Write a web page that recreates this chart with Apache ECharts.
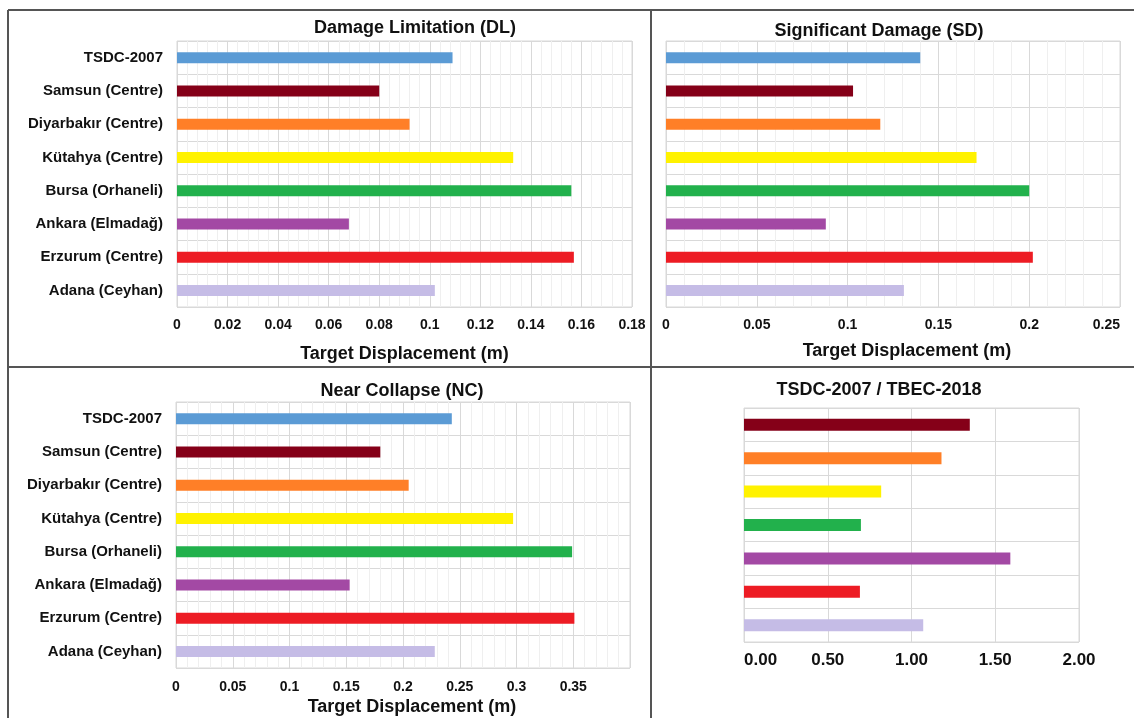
<!DOCTYPE html>
<html>
<head>
<meta charset="utf-8">
<script src="https://cdn.jsdelivr.net/npm/echarts@6/dist/echarts.min.js"></script>
<style>
html,body{margin:0;padding:0;background:#fff;}
#c{width:1134px;height:718px;}
</style>
</head>
<body>
<div id="c"></div>
<script>
// Categories listed top to bottom as they appear
const categories = ['TSDC-2007','Samsun (Centre)','Diyarbakır (Centre)','Kütahya (Centre)','Bursa (Orhaneli)','Ankara (Elmadağ)','Erzurum (Centre)','Adana (Ceyhan)'];
const barColors = ['#5B9BD5','#850018','#FF7F27','#FFF200','#22B14C','#A349A4','#ED1C24','#C5BCE6'];

const dlValues = [0.109, 0.080, 0.092, 0.133, 0.156, 0.068, 0.157, 0.102];
const sdValues = [0.140, 0.103, 0.118, 0.171, 0.200, 0.088, 0.202, 0.131];
const ncValues = [0.243, 0.180, 0.205, 0.297, 0.349, 0.153, 0.351, 0.228];

// Ratio panel: sites only (no TSDC-2007 row)
const ratioCategories = categories.slice(1);
const ratioColors = barColors.slice(1);
const ratioValues = [1.348, 1.179, 0.819, 0.698, 1.590, 0.692, 1.070];

const titles = ['Damage Limitation (DL)','Significant Damage (SD)','Near Collapse (NC)','TSDC-2007 / TBEC-2018'];
const axisTitle = 'Target Displacement (m)';

const FONT = '"Liberation Sans", Arial, sans-serif';
const chart = echarts.init(document.getElementById('c'));

function items(vals, cols){ return vals.map((v,i)=>({value:v, itemStyle:{color:cols[i]}})); }

const gridCommon = {show:true, borderColor:'#d9d9d9', borderWidth:1, backgroundColor:'transparent'};
const tickLbl = {color:'#111', fontFamily:FONT, fontWeight:'bold', fontSize:14, margin:11};
const nameStyle = {color:'#111', fontFamily:FONT, fontWeight:'bold', fontSize:18};
function xAx(gi, max, interval, opts){
  return Object.assign({
    type:'value', gridIndex:gi, min:0, max:max, interval:interval,
    axisLine:{show:false}, axisTick:{show:false},
    axisLabel:Object.assign({}, tickLbl),
    splitLine:{show:true, lineStyle:{color:'#d9d9d9', width:1}},
    minorTick:{show:false, splitNumber:5},
    minorSplitLine:{show:true, lineStyle:{color:'#efefef', width:1}},
    name:axisTitle, nameLocation:'middle', nameGap:38,
    nameTextStyle:Object.assign({}, nameStyle)
  }, opts||{});
}
function yAx(gi, cats, showLabels){
  return {
    type:'category', gridIndex:gi, data:cats, inverse:true,
    axisLine:{show:false}, axisTick:{show:false},
    axisLabel:{show:showLabels, color:'#111', fontFamily:FONT, fontWeight:'bold', fontSize:15, margin:14},
    splitLine:{show:true, lineStyle:{color:'#d9d9d9', width:1}}
  };
}
function bar(gi, vals, cols, w){
  return {type:'bar', xAxisIndex:gi, yAxisIndex:gi, data:items(vals, cols), barWidth:w, silent:true, animation:false};
}
const titleStyle = {color:'#111', fontFamily:FONT, fontWeight:'bold', fontSize:18};
const lineStyle = {stroke:'#555', lineWidth:2};

chart.setOption({
  animation:false,
  title:[
    {text:titles[0], left:410, top:14, textAlign:'center', textStyle:titleStyle},
    {text:titles[1], left:874, top:17, textAlign:'center', textStyle:titleStyle},
    {text:titles[2], left:397, top:377, textAlign:'center', textStyle:titleStyle},
    {text:titles[3], left:874, top:376, textAlign:'center', textStyle:titleStyle}
  ],
  grid:[
    Object.assign({left:177, width:455, top:41, height:266}, gridCommon),
    Object.assign({left:666, width:454, top:41, height:266}, gridCommon),
    Object.assign({left:176, width:454, top:402, height:266}, gridCommon),
    Object.assign({left:744, width:335, top:408, height:234}, gridCommon)
  ],
  xAxis:[
    xAx(0, 0.18, 0.02),
    xAx(1, 0.25, 0.05, {axisLabel:Object.assign({}, tickLbl, {alignMaxLabel:'right'}),
      nameGap:35, nameTextStyle:Object.assign({}, nameStyle, {padding:[0,0,0,28]})}),
    xAx(2, 0.4, 0.05, {axisLabel:Object.assign({}, tickLbl, {margin:12, showMaxLabel:false}),
      nameGap:30, nameTextStyle:Object.assign({}, nameStyle, {padding:[0,0,0,18]})}),
    xAx(3, 2, 0.5, {name:'', minorSplitLine:{show:false},
      axisLabel:{color:'#111', fontFamily:FONT, fontWeight:'bold', fontSize:17, margin:10, alignMinLabel:'left',
        formatter:(v)=>v.toFixed(2)}})
  ],
  yAxis:[
    yAx(0, categories, true),
    yAx(1, categories, false),
    yAx(2, categories, true),
    yAx(3, ratioCategories, false)
  ],
  series:[
    bar(0, dlValues, barColors, 11),
    bar(1, sdValues, barColors, 11),
    bar(2, ncValues, barColors, 11),
    bar(3, ratioValues, ratioColors, 12)
  ],
  graphic:[
    {type:'line', shape:{x1:8, y1:10, x2:1134, y2:10}, style:lineStyle, silent:true},
    {type:'line', shape:{x1:8, y1:10, x2:8, y2:718}, style:lineStyle, silent:true},
    {type:'line', shape:{x1:651, y1:10, x2:651, y2:718}, style:lineStyle, silent:true},
    {type:'line', shape:{x1:8, y1:367, x2:1134, y2:367}, style:lineStyle, silent:true}
  ]
});
</script>
</body>
</html>
